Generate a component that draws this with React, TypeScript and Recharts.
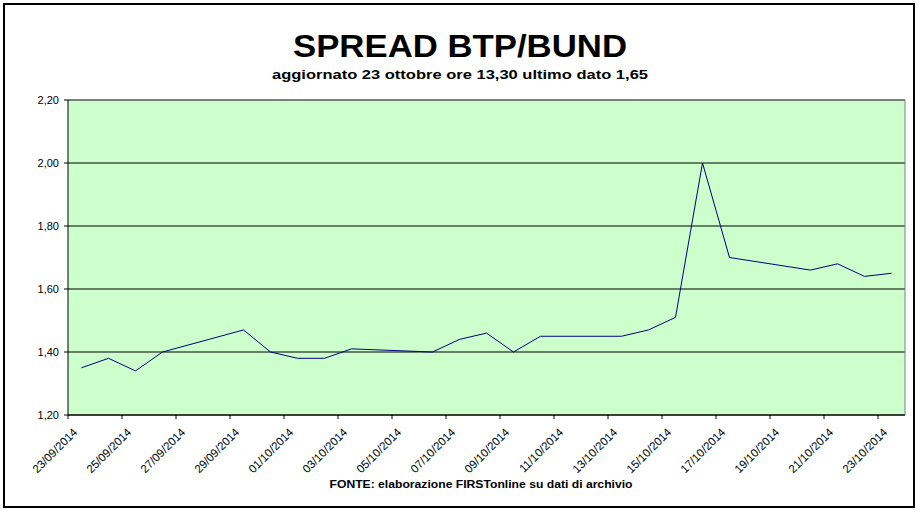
import React from "react";
import { LineChart, Line, XAxis, YAxis, CartesianGrid, ReferenceLine } from "recharts";

const dates = [
  "23/09/2014", "24/09/2014", "25/09/2014", "26/09/2014", "29/09/2014", "30/09/2014",
  "01/10/2014", "02/10/2014", "03/10/2014", "06/10/2014", "07/10/2014", "08/10/2014",
  "09/10/2014", "10/10/2014", "13/10/2014", "14/10/2014", "15/10/2014", "16/10/2014",
  "17/10/2014", "20/10/2014", "21/10/2014", "22/10/2014", "23/10/2014",
];
const spread = [
  1.35, 1.38, 1.34, 1.40, 1.47, 1.40,
  1.38, 1.38, 1.41, 1.40, 1.44, 1.46,
  1.40, 1.45, 1.45, 1.47, 1.51, 2.00,
  1.70, 1.66, 1.68, 1.64, 1.65,
];
const tickDates = [
  "23/09/2014", "25/09/2014", "27/09/2014", "29/09/2014", "01/10/2014", "03/10/2014",
  "05/10/2014", "07/10/2014", "09/10/2014", "11/10/2014", "13/10/2014", "15/10/2014",
  "17/10/2014", "19/10/2014", "21/10/2014", "23/10/2014",
];
const yTicks = [1.2, 1.4, 1.6, 1.8, 2.0, 2.2];
const title = "SPREAD BTP/BUND";
const subtitle = "aggiornato 23 ottobre ore 13,30 ultimo dato 1,65";
const source = "FONTE: elaborazione FIRSTonline su dati di archivio";

const toDay = (s: string) => {
  const [d, m, y] = s.split("/").map(Number);
  return Math.round((Date.UTC(y, m - 1, d) - Date.UTC(2014, 8, 23)) / 86400000);
};

const data = dates.map((d, i) => ({ x: toDay(d) + 0.5, v: spread[i], date: d }));
const xTicks = tickDates.map(toDay);
const lastDay = toDay(dates[dates.length - 1]) + 1;

const FONT = "Arial, 'Liberation Sans', sans-serif";

const XTick = (props: any) => {
  const { x, y, payload } = props;
  const idx = xTicks.indexOf(payload.value);
  const label = idx >= 0 ? tickDates[idx] : "";
  return (
    <g transform={`translate(${x + 10},${y + 12})`}>
      <text transform="rotate(-45)" textAnchor="end" fontSize={11.5} fontFamily={FONT} fill="#000">
        {label}
      </text>
    </g>
  );
};

export default function App() {
  return (
    <div style={{ position: "absolute", left: 0, top: 0, width: 920, height: 510, background: "#fff" }}>
      <div
        style={{
          position: "absolute",
          left: 3,
          top: 3,
          width: 912,
          height: 505,
          border: "2px solid #000",
          boxSizing: "border-box",
        }}
      />
      <svg style={{ position: "absolute", left: 0, top: 0 }} width={920} height={100}>
        <text
          x={460}
          y={57}
          textAnchor="middle"
          fontFamily={FONT}
          fontWeight="bold"
          fontSize={32}
          textLength={334}
          lengthAdjust="spacingAndGlyphs"
          fill="#000"
        >
          {title}
        </text>
        <text
          x={460}
          y={79}
          textAnchor="middle"
          fontFamily={FONT}
          fontWeight="bold"
          fontSize={13}
          textLength={376}
          lengthAdjust="spacingAndGlyphs"
          fill="#000"
        >
          {subtitle}
        </text>
      </svg>
      <div style={{ position: "absolute", left: 0, top: 0 }}>
        <LineChart width={920} height={510} data={data} margin={{ top: 100, right: 15, bottom: 15, left: 8 }}>
          <CartesianGrid
            horizontal={true}
            vertical={false}
            stroke="#000"
            fill="#CCFFCC"
            fillOpacity={1}
          />
          <ReferenceLine y={2.2} stroke="#808080" ifOverflow="visible" />
          <ReferenceLine x={lastDay} stroke="#808080" ifOverflow="visible" />
          <XAxis
            dataKey="x"
            type="number"
            domain={[0, lastDay]}
            ticks={xTicks}
            interval={0}
            allowDataOverflow
            axisLine={{ stroke: "#000" }}
            tickLine={{ stroke: "#000" }}
            tickSize={4}
            tickMargin={2}
            height={80}
            tick={<XTick />}
          />
          <YAxis
            type="number"
            domain={[1.2, 2.2]}
            ticks={yTicks}
            interval={0}
            width={60}
            axisLine={{ stroke: "#000" }}
            tickLine={{ stroke: "#000" }}
            tickSize={4}
            tickMargin={5}
            tick={{ fontSize: 11, fill: "#000", fontFamily: FONT }}
            tickFormatter={(v: number) => v.toFixed(2).replace(".", ",")}
          />
          <Line
            type="linear"
            dataKey="v"
            stroke="#000080"
            strokeWidth={1}
            dot={false}
            isAnimationActive={false}
          />
        </LineChart>
      </div>
      <svg style={{ position: "absolute", left: 0, top: 470 }} width={920} height={30}>
        <text
          x={481}
          y={18}
          textAnchor="middle"
          fontFamily={FONT}
          fontWeight="bold"
          fontSize={11}
          textLength={303}
          lengthAdjust="spacingAndGlyphs"
          fill="#000"
        >
          {source}
        </text>
      </svg>
    </div>
  );
}
